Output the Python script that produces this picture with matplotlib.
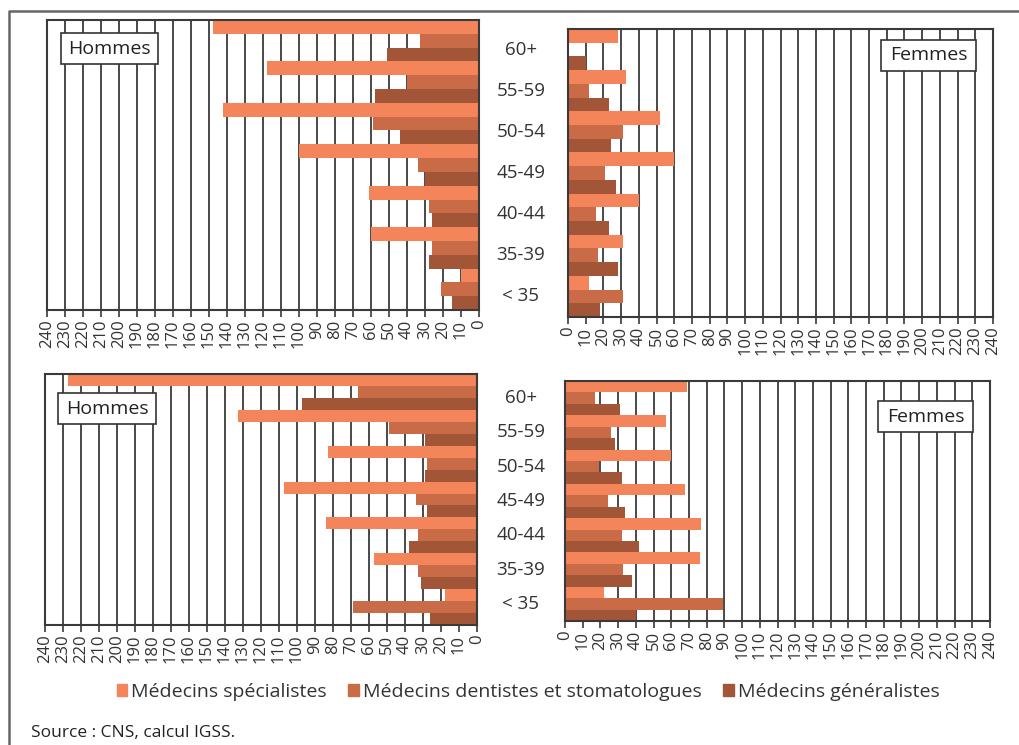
import numpy as np
import matplotlib.pyplot as plt
import matplotlib.patches as patches
import matplotlib.transforms as mtransforms

plt.rcParams['font.family'] = ['Open Sans', 'DejaVu Sans']

#%% data (age groups from the top down)
ages = ['60+', '55-59', '50-54', '45-49', '40-44', '35-39', '< 35']
series = ['Médecins spécialistes', 'Médecins dentistes et stomatologues',
          'Médecins généralistes']
colors = ['#F4845A', '#C96B46', '#A35637']

# upper pair of pyramids
hommes_1_spec = [148, 118, 142, 100, 61, 60, 10]
hommes_1_dent = [33, 40, 59, 34, 28, 26, 21]
hommes_1_gen = [51, 58, 44, 30, 26, 28, 15]
femmes_1_spec = [28, 33, 52, 60, 40, 31, 12]
femmes_1_dent = [0, 12, 31, 21, 16, 17, 31]
femmes_1_gen = [10, 23, 24, 27, 23, 28, 18]

# lower pair of pyramids
hommes_2_spec = [227, 133, 83, 107, 84, 57, 18]
hommes_2_dent = [66, 49, 28, 34, 33, 33, 69]
hommes_2_gen = [97, 29, 29, 28, 38, 31, 26]
femmes_2_spec = [69, 57, 60, 68, 77, 76, 22]
femmes_2_dent = [17, 26, 19, 24, 32, 33, 89]
femmes_2_gen = [31, 28, 32, 34, 42, 38, 40]

x_ticks = np.arange(0, 250, 10)

W, H = 1020, 745
fig = plt.figure(figsize=(W / 100, H / 100), dpi=100)


def px_box(x0, y0, x1, y1):
    """pixel box (top-left origin) -> figure fraction rect"""
    return [x0 / W, 1 - y1 / H, (x1 - x0) / W, (y1 - y0) / H]


def draw_panel(rect, values, men):
    ax = fig.add_axes(rect)
    ax.set_axisbelow(True)
    n = len(ages)
    for j, vals in enumerate(values):
        ypos = np.arange(n) + j / 3
        ax.barh(ypos, vals, height=1 / 3, align='edge', color=colors[j],
                label=series[j], linewidth=0)
    ax.set_ylim(n, 0)
    if men:
        ax.set_xlim(240, 0)
    else:
        ax.set_xlim(0, 240)
    ax.set_xticks(x_ticks)
    ax.set_xticklabels([str(t) for t in x_ticks], rotation=90, fontsize=12,
                       color='#333333')
    ax.set_yticks([])
    ax.tick_params(axis='x', length=5, width=1.2, color='#3a3a3a', pad=2)
    ax.xaxis.grid(True, color='#3a3a3a', linewidth=1.3)
    for s in ax.spines.values():
        s.set_color('#3a3a3a')
        s.set_linewidth(1.5)
    return ax


def tag(x0, y0, x1, y1, txt):
    fig.add_artist(patches.Rectangle((x0 / W, 1 - y1 / H), (x1 - x0) / W,
                                     (y1 - y0) / H, transform=fig.transFigure,
                                     facecolor='white', edgecolor='#333333',
                                     linewidth=1.2, zorder=5))
    fig.text((x0 + x1) / 2 / W, 1 - (y0 + y1) / 2 / H, txt, ha='center',
             va='center', fontsize=14, color='#222222', zorder=6)


def age_labels(ax):
    trans = mtransforms.blended_transform_factory(fig.transFigure, ax.transData)
    for k, a in enumerate(ages):
        fig.text(521 / W, k + 0.5, a, transform=trans, ha='center',
                 va='center', fontsize=13.5, color='#333333')


#%% upper pyramids
draw_panel(px_box(47, 20, 479, 310),
           [hommes_1_spec, hommes_1_dent, hommes_1_gen], True)
ax_f1 = draw_panel(px_box(568, 29, 993, 317),
                   [femmes_1_spec, femmes_1_dent, femmes_1_gen], False)
age_labels(ax_f1)
tag(61, 33, 158, 64, 'Hommes')
tag(881, 40, 976, 71, 'Femmes')

#%% lower pyramids
draw_panel(px_box(45, 374, 477, 625),
           [hommes_2_spec, hommes_2_dent, hommes_2_gen], True)
ax_f2 = draw_panel(px_box(565, 381, 990, 621),
                   [femmes_2_spec, femmes_2_dent, femmes_2_gen], False)
age_labels(ax_f2)
tag(58, 393, 156, 424, 'Hommes')
tag(878, 401, 973, 432, 'Femmes')

#%% legend, source and outer frame
handles = [patches.Patch(color=c) for c in colors]
fig.legend(handles, series, loc='center', bbox_to_anchor=(528 / W, 1 - 692 / H),
           ncol=3, frameon=False, fontsize=14, handlelength=0.55,
           handleheight=0.55, handletextpad=0.2, columnspacing=1.1,
           labelcolor='#333333')
fig.text(31 / W, 1 - 733 / H, 'Source : CNS, calcul IGSS.', ha='left',
         va='center', fontsize=12.5, color='#222222')

fig.add_artist(plt.Line2D([9 / W, 9 / W, 1.0], [0.0, 1 - 11 / H, 1 - 11 / H],
                          transform=fig.transFigure, color='#666666',
                          linewidth=1.8))

fig.savefig('out.png', dpi=100)
